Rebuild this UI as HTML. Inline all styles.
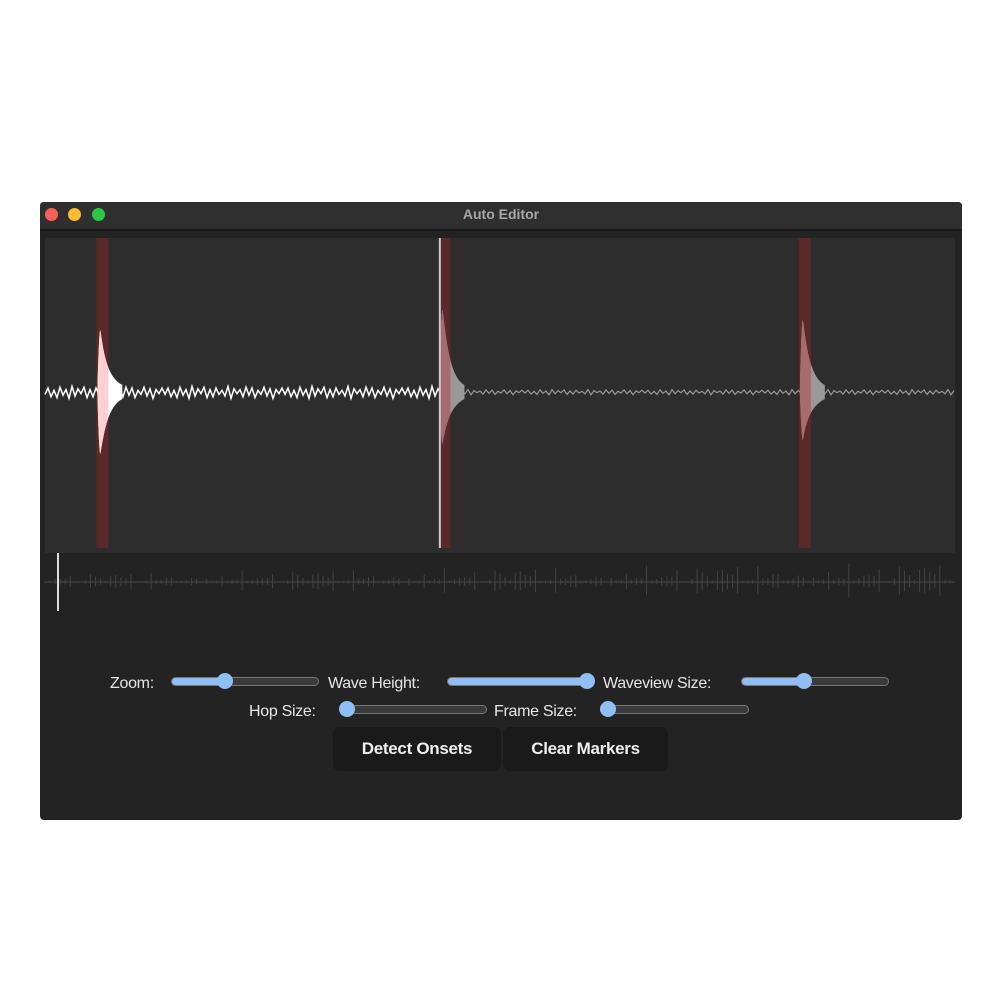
<!DOCTYPE html>
<html><head><meta charset="utf-8"><style>
body{margin:0;width:1000px;height:1000px;background:#fff;font-family:"Liberation Sans",sans-serif;position:relative;overflow:hidden}
.win{position:absolute;left:40px;top:202px;width:922px;height:618px;background:#232323;border-radius:4px}
.title{position:absolute;left:0;top:0;width:922px;height:27px;background:#2f2f2f;border-bottom:2px solid #1a1a1a;border-radius:4px 4px 0 0}
.title span{position:absolute;left:0;right:0;top:4px;text-align:center;color:#a8a8a8;font-weight:bold;font-size:14px}
.dot{position:absolute;top:6px;width:13px;height:13px;border-radius:50%}
.lbl{position:absolute;color:#e6e6e6;font-size:16px;letter-spacing:-0.3px}
.track{position:absolute;height:7px;border:1px solid #777;border-radius:5px;background:#3a3a3a}
.fill{position:absolute;left:0;top:0;height:7px;background:#8fbff5;border-radius:5px}
.thumb{position:absolute;width:16px;height:16px;border-radius:50%;background:#8fbff5;top:-5px}
.btn{position:absolute;top:727px;height:44px;background:#1a1a1a;border-radius:7px;color:#eee;font-weight:bold;font-size:17px;text-align:center;line-height:44px;letter-spacing:-0.3px}
</style></head><body>
<div class="win">
<div class="title"><span>Auto Editor</span>
<div class="dot" style="left:5px;background:#fe5f57"></div>
<div class="dot" style="left:28px;background:#febc2e"></div>
<div class="dot" style="left:52px;background:#28c840"></div>
</div></div>
<svg id="wave" width="1000" height="1000" style="position:absolute;left:0;top:0"></svg>
<div class="lbl" style="left:110px;top:675px">Zoom:</div>
<div class="track" style="left:171px;top:677px;width:146px"><div class="fill" style="width:55px"></div><div class="thumb" style="left:45px"></div></div>
<div class="lbl" style="left:328px;top:675px">Wave Height:</div>
<div class="track" style="left:447px;top:677px;width:141px"><div class="fill" style="width:141px"></div><div class="thumb" style="left:131px"></div></div>
<div class="lbl" style="left:603px;top:675px">Waveview Size:</div>
<div class="track" style="left:741px;top:677px;width:146px"><div class="fill" style="width:64px"></div><div class="thumb" style="left:54px"></div></div>
<div class="lbl" style="left:249px;top:703px">Hop Size:</div>
<div class="track" style="left:339px;top:705px;width:146px"><div class="thumb" style="left:-1px"></div></div>
<div class="lbl" style="left:494px;top:703px">Frame Size:</div>
<div class="track" style="left:600px;top:705px;width:147px"><div class="thumb" style="left:-1px"></div></div>
<div class="btn" style="left:333px;width:168px">Detect Onsets</div>
<div class="btn" style="left:503px;width:165px">Clear Markers</div>
<script>
const onsetTimes=[0.063,0.439,0.835];
const onsetUp=[62,82,72];
const onsetDown=[62,52,48];
const noiseVals=[3,-5,6,-2,7,-6,4,-3,8,-7,5,-4,2,-6,7,-3,6,-5,3,-2,5,-7,8,-4,2,-3,6,-6,4,-5,7,-2,3,-6,5,-4,8,-3,2,-5];
const overviewVals=[2,5,1,8,3,12,2,4,9,1,6,14,3,2,7,10,4,1,16,5,3,8,2,18,6,11,4,20,7,3,13,2,9,22,5,15,4,8,3,19];
const playhead=0.435;
const NS='http://www.w3.org/2000/svg';
const svg=document.getElementById('wave');
const X0=45,X1=955,Y0=238,Y1=553,CY=392;
const xs=t=>X0+t*(X1-X0);
function el(tag,a,name,parent){const e=document.createElementNS(NS,tag);for(const k in a)e.setAttribute(k,a[k]);


(parent||svg).appendChild(e);return e;}
el('rect',{x:X0,y:Y0,width:X1-X0,height:Y1-Y0,fill:'#2d2d2d'},'waveform-panel');
onsetTimes.forEach(t=>{el('rect',{x:xs(t)-6,y:Y0,width:12,height:Y1-Y0-5,fill:'#5a2a28'},'onset-marker');});
let pts=[];
for(let i=0;i<=303;i++){
  const x=X0+i*3;const t=(x-X0)/(X1-X0);
  const a=noiseVals[i%noiseVals.length]*(t<0.439?0.8:0.35);
  pts.push([x,CY+a]);
}
el('polyline',{points:pts.filter(p=>p[0]<xs(onsetTimes[1])).map(p=>p.join(',')).join(' '),fill:'none',stroke:'#fff','stroke-width':1.5},'waveform-played');
el('polyline',{points:pts.filter(p=>p[0]>=xs(onsetTimes[1])-3).map(p=>p.join(',')).join(' '),fill:'none',stroke:'#999','stroke-width':1.2},'waveform-unplayed');
onsetTimes.forEach((o,k)=>{
  const x=xs(o)-5;
  const up=onsetUp[k],dn=onsetDown[k];
  const d=`M${x},${CY} C${x+1},${CY-up*0.6} ${x+2},${CY-up} ${x+3},${CY-up} C${x+6},${CY-up+20} ${x+9},${CY-15} ${x+25},${CY-7} L${x+25},${CY+7} C${x+9},${CY+15} ${x+6},${CY+dn-15} ${x+3},${CY+dn} C${x+2},${CY+dn} ${x+1},${CY+dn*0.6} ${x},${CY} Z`;
  el('path',{d:d,fill:k==0?'#fff':'#999'},'onset-transient');
  const cp=el('clipPath',{id:'c'+k},'onset-clip');
  el('rect',{x:xs(o)-6,y:Y0,width:12,height:Y1-Y0},'clip-rect',cp);
  el('path',{d:d,fill:k==0?'#ffd0d0':'#a86a6a','clip-path':'url(#c'+k+')'},'onset-highlight');
});
el('line',{x1:xs(playhead)-1,x2:xs(playhead)-1,y1:Y0,y2:Y1-5,stroke:'#c8c8dc','stroke-width':2},'playhead');
const OY=582;
el('line',{x1:X0,x2:X1,y1:OY,y2:OY,stroke:'#4a4a4a','stroke-width':1},'overview-baseline');
for(let i=0;i<180;i++){const v=overviewVals[(i*7)%overviewVals.length]*(0.4+i/360);const x=X0+i*(X1-X0)/180;
el('line',{x1:x,x2:x,y1:OY-v,y2:OY+v*0.8,stroke:'#444','stroke-width':1},'overview-spike');}
el('line',{x1:58,x2:58,y1:553,y2:611,stroke:'#ddd','stroke-width':2},'overview-playhead');
</script>
</body></html>
